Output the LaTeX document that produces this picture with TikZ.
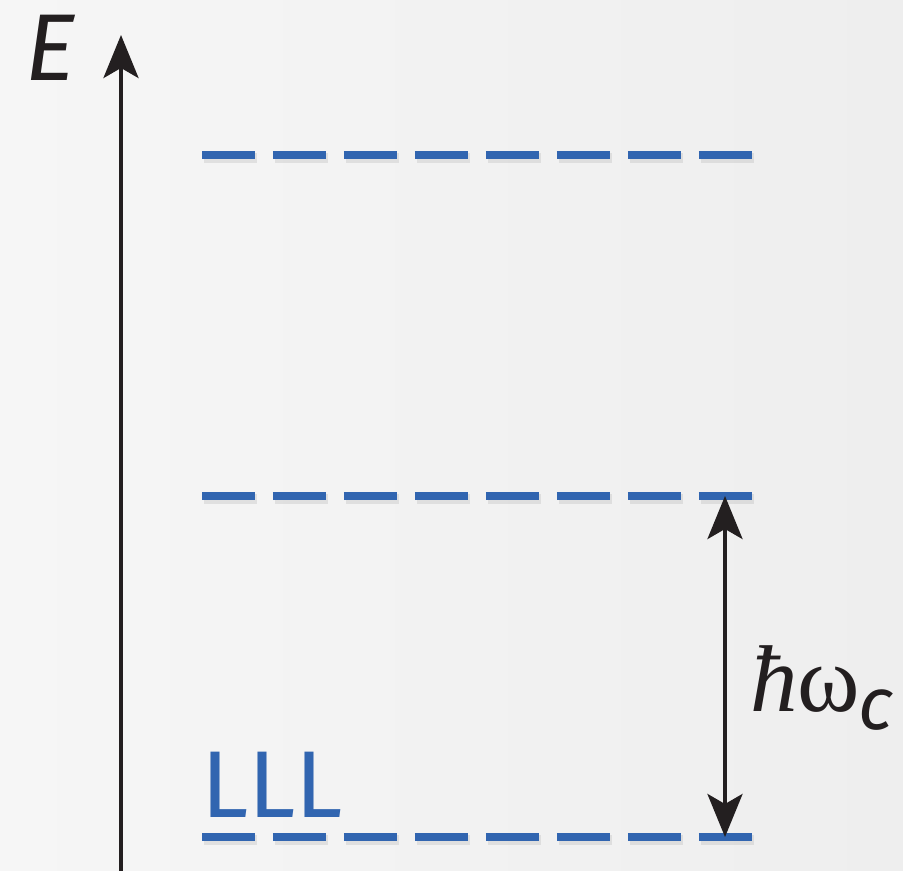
\documentclass[tikz,border=0pt]{standalone}
\usepackage{fontspec}
\setsansfont{Fira Sans}
\newfontfamily\symfont{Liberation Serif}
\usepackage{tikz}
\usetikzlibrary{
	arrows.meta,
	positioning
}
\definecolor{levelblue}{HTML}{3165B0}
\definecolor{inkblack}{HTML}{231F20}
\definecolor{bglight}{HTML}{F6F6F6}
\definecolor{bgdark}{HTML}{EEEEEE}

\begin{document}
\begin{tikzpicture}[x=0.02cm,y=-0.02cm,
	level/.style={levelblue,line width=0.16cm,dash pattern=on 1.06cm off 0.36cm},
	levelshadow/.style={black,opacity=0.08,line width=0.2cm,dash pattern=on 1.06cm off 0.36cm},
	arrowline/.style={inkblack,line width=0.08cm},
	tip/.tip={Stealth[length=0.86cm,width=0.7cm,inset=0.2cm]}]
		% background
		\shade[shading angle=135,left color=bglight,right color=bgdark] (0,0) rectangle (903,871);
		\useasboundingbox (0,0) rectangle (903,871);
		\coordinate (axisbot) at (121,871);
		\coordinate (axistop) at (121,35);
		\coordinate (L2w) at (202,155); \coordinate (L2e) at (752,155);
		\coordinate (L1w) at (202,496); \coordinate (L1e) at (752,496);
		\coordinate (L0w) at (202,837); \coordinate (L0e) at (752,837);
		\coordinate (gaptop) at (725,496);
		\coordinate (gapbot) at (725,837);
		\draw[arrowline,-tip] (axisbot)--(axistop);
		\draw[levelshadow] ([shift={(2,3)}]L2w)--([shift={(2,3)}]L2e);
		\draw[levelshadow] ([shift={(2,3)}]L1w)--([shift={(2,3)}]L1e);
		\draw[levelshadow] ([shift={(2,3)}]L0w)--([shift={(2,3)}]L0e);
		\draw[level] (L2w)--(L2e);
		\draw[level] (L1w)--(L1e);
		\draw[level] (L0w)--(L0e);
		\draw[arrowline,tip-tip] (gapbot)--(gaptop);
		\node[inkblack,anchor=base,inner sep=0pt] (Elabel) at (51,81) {\fontsize{54}{60}\selectfont\sffamily\itshape E};
		\node[levelblue,anchor=base,inner sep=0pt] (LLLlabel) at (272,817) {\fontsize{54}{60}\selectfont\sffamily LLL};
		\node[inkblack,anchor=base west,inner sep=0pt] (gaplabel) at (750,711) {\fontsize{54}{58}\selectfont\symfont\itshape ħ\upshape ω\kern-0.02em\raisebox{-0.2em}{\fontsize{42}{46}\selectfont\sffamily\itshape c}};
	\end{tikzpicture}
\end{document}
